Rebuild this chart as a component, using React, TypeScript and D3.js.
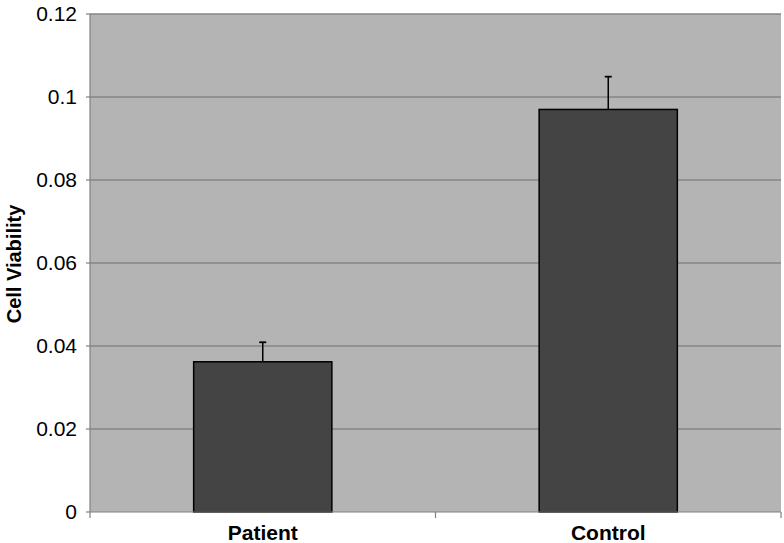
import React from "react";
import * as d3 from "d3";

const categories = ["Patient", "Control"];
const values = [0.0362, 0.097];
const errors = [0.0047, 0.0079];
const yTicks = [0, 0.02, 0.04, 0.06, 0.08, 0.1, 0.12];
const yTickLabels = ["0", "0.02", "0.04", "0.06", "0.08", "0.1", "0.12"];

export default function App() {
  const W = 784, H = 543;
  const left = 90, right = 781, top = 14, bottom = 512;
  const x = d3.scaleBand<string>().domain(categories).range([left, right]).padding(0);
  const y = d3.scaleLinear().domain([0, 0.12]).range([bottom, top]);
  const bw = x.bandwidth() * 0.4;
  const font = "'Liberation Sans', Arial, sans-serif";
  const cap = 3.5;
  return (
    <svg width={W} height={H} style={{ position: "absolute", left: 0, top: 0 }}>
      <rect x={0} y={0} width={W} height={H} fill="#ffffff" />
      <rect x={left} y={top} width={right - left} height={bottom - top} fill="#b4b4b4" />
      {yTicks.slice(1).map((t) => (
        <line key={t} x1={left} x2={right} y1={y(t)} y2={y(t)} stroke="#868686" strokeWidth={1.5} />
      ))}
      {categories.map((c, i) => {
        const cx = x(c)! + x.bandwidth() / 2;
        const yv = y(values[i]);
        const ye = y(values[i] + errors[i]);
        return (
          <g key={c}>
            <line x1={cx} x2={cx} y1={yv} y2={ye} stroke="#000" strokeWidth={1.5} />
            <line x1={cx - cap} x2={cx + cap} y1={ye} y2={ye} stroke="#000" strokeWidth={1.8} />
            <rect x={cx - bw / 2} y={yv} width={bw} height={bottom - yv} fill="#444444" stroke="#000" strokeWidth={1.5} />
          </g>
        );
      })}
      <line x1={left} x2={left} y1={top} y2={bottom} stroke="#808080" strokeWidth={1.2} />
      <line x1={left} x2={right} y1={bottom} y2={bottom} stroke="#808080" strokeWidth={1.2} />
      {yTicks.map((t, i) => (
        <g key={t}>
          <line x1={left - 4} x2={left} y1={y(t)} y2={y(t)} stroke="#808080" strokeWidth={1.2} />
          <text x={77} y={y(t)} dy="0.35em" textAnchor="end" fontFamily={font} fontSize={21} fill="#000">
            {yTickLabels[i]}
          </text>
        </g>
      ))}
      {[left, left + x.bandwidth(), right].map((px, i) => (
        <line key={i} x1={px} x2={px} y1={bottom} y2={bottom + 6} stroke="#808080" strokeWidth={1.2} />
      ))}
      {categories.map((c) => (
        <text key={c} x={x(c)! + x.bandwidth() / 2} y={540} textAnchor="middle" fontFamily={font} fontSize={21} fontWeight="bold" fill="#000">
          {c}
        </text>
      ))}
      <text transform={`translate(21,${(top + bottom) / 2 + 1}) rotate(-90)`} textAnchor="middle" fontFamily={font} fontSize={20} fontWeight="bold" fill="#000">
        Cell Viability
      </text>
    </svg>
  );
}
